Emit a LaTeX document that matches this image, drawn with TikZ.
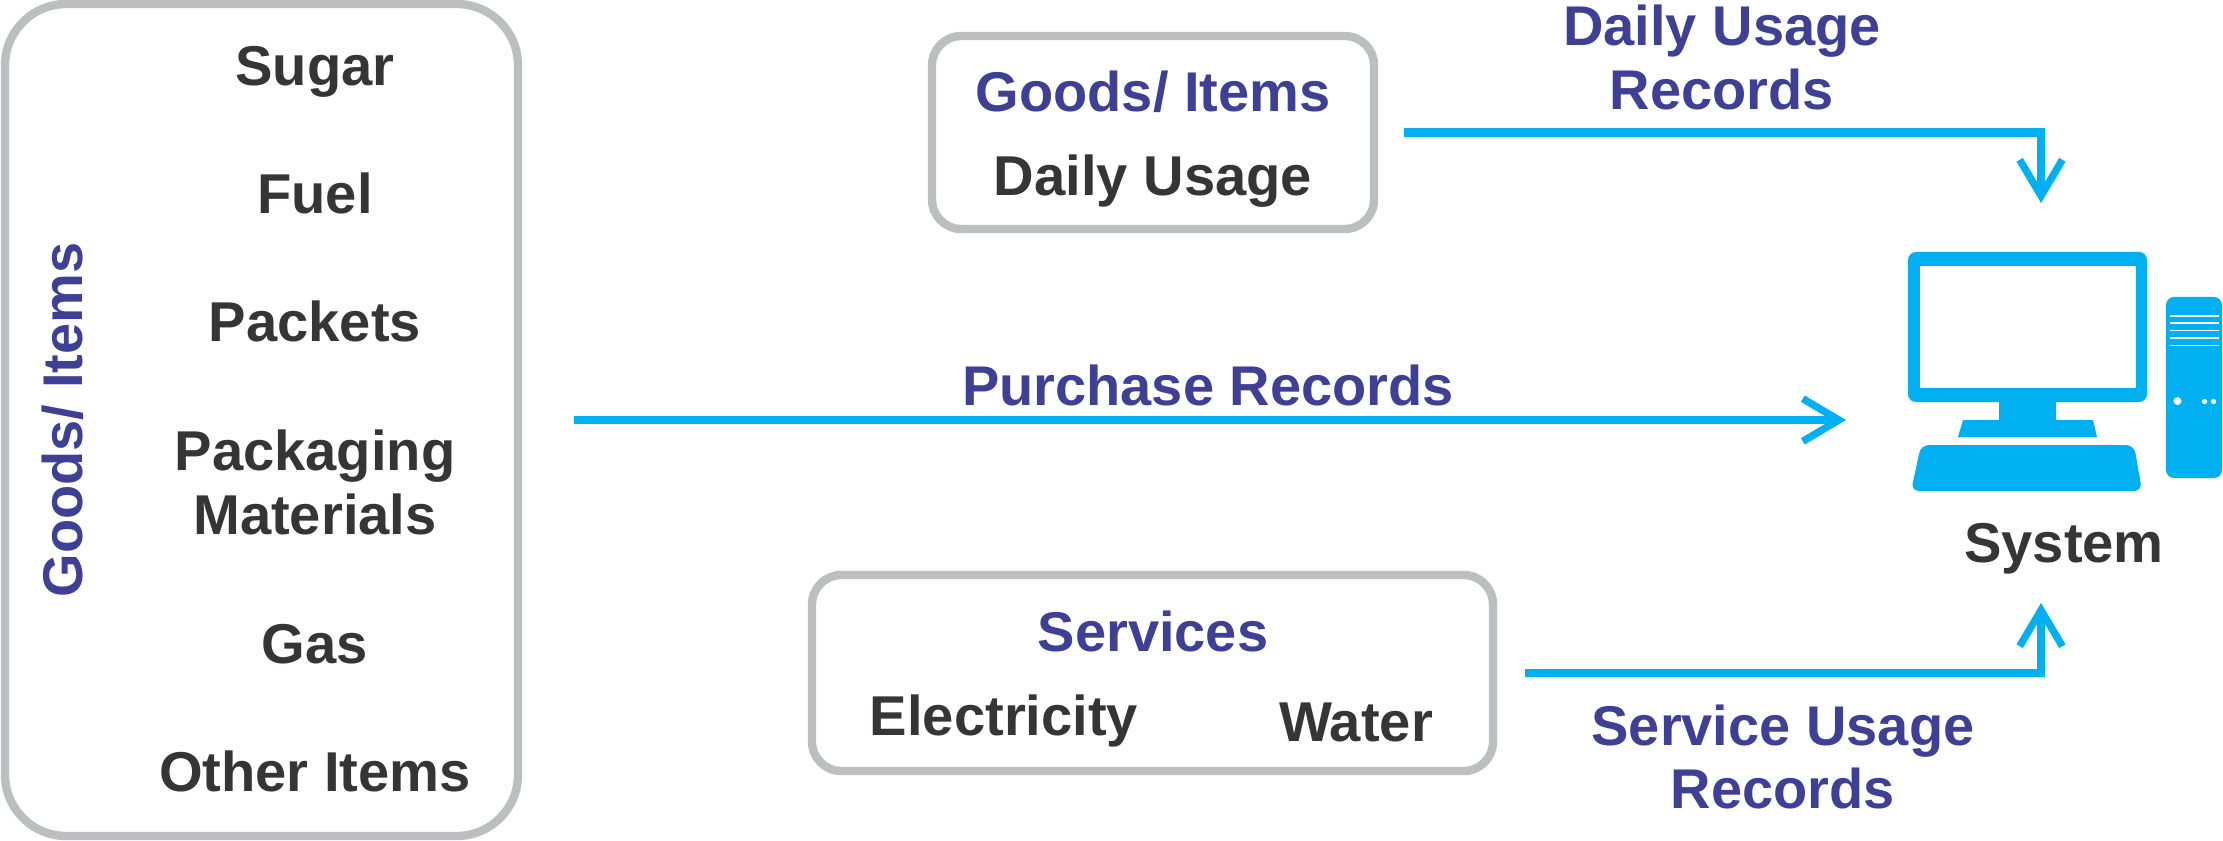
\documentclass[tikz,border=0pt]{standalone}
\usepackage{fontspec}
\setmainfont{Liberation Sans}
\usetikzlibrary{arrows.meta}
\definecolor{boxgray}{HTML}{BCBEC0}
\definecolor{inkdark}{HTML}{363435}
\definecolor{headblue}{HTML}{3E4095}
\definecolor{flowcyan}{HTML}{00B0F0}
\tikzset{
  itembox/.style={draw=boxgray,line width=6.3pt,inner sep=0pt,outer sep=0pt},
  itemtext/.style={anchor=base,align=center,text=inkdark,font=\fontsize{42.1}{48}\selectfont\bfseries},
  headtext/.style={anchor=base,align=center,text=headblue,font=\fontsize{42}{48}\selectfont\bfseries},
  flowline/.style={draw=flowcyan,line width=6.3pt,-{Straight Barb[length=27pt,width=32pt,line width=5.5pt]}},
}

\begin{document}
\begin{tikzpicture}[x=0.75pt,y=0.75pt,yscale=-1,xscale=1]
\useasboundingbox (0,0) rectangle (2223,841);

%Rounded boxes
\draw (261.5,420) node (itemsbox) [itembox,rounded corners=46pt,minimum width=384.75pt,minimum height=624pt] {};
\draw (1153,132.5) node (usagebox) [itembox,rounded corners=22pt,minimum width=331.5pt,minimum height=144.75pt] {};
\draw (1152.5,673) node (servicebox) [itembox,rounded corners=22pt,minimum width=510.75pt,minimum height=147pt] {};

% Text Node
\draw (82,420) node (itemshead) [headtext,rotate=90] {Goods/ Items};
\draw (315,86) node (sugar) [itemtext] {Sugar};
\draw (315,214) node (fuel) [itemtext] {Fuel};
\draw (315,342) node (packets) [itemtext] {Packets};
\draw (315,470) node (packaging) [itemtext] {Packaging};
\draw (315,534) node (materials) [itemtext] {Materials};
\draw (315,663) node (gas) [itemtext] {Gas};
\draw (315,791) node (otheritems) [itemtext] {Other Items};
% Text Node
\draw (1153,112) node (usagehead) [headtext] {Goods/ Items};
\draw (1153,196) node (dailyusage) [itemtext] {Daily Usage};
% Text Node
\draw (1153,651) node (servicehead) [headtext] {Services};
\draw (1004,735) node (electricity) [itemtext] {Electricity};
\draw (1356,741) node (water) [itemtext] {Water};
% Text Node
\draw (1722,46) node (usagelabel) [headtext] {Daily Usage};
\draw (1722,110) node (usagerecords) [headtext] {Records};
\draw (1208,405) node (purchaselabel) [headtext] {Purchase Records};
\draw (1783,745) node (servicelabel) [headtext] {Service Usage};
\draw (1783,808) node (servicerecords) [headtext] {Records};
\draw (2064,562) node (system) [itemtext] {System};

%Computer
\fill [flowcyan,rounded corners=6pt] (1908,252) rectangle (2147,402);
\fill [white] (1920,266) rectangle (2136,388);
\fill [flowcyan] (1999,402) -- (2056,402) -- (2056,420) -- (2093,420) -- (2097,437) -- (1958,437) -- (1963,420) -- (1999,420) -- cycle;
\fill [flowcyan,rounded corners=6pt] (1921,445) -- (2134,445) -- (2142,491) -- (1911,491) -- cycle;
\fill [flowcyan,rounded corners=6pt] (2166,297) rectangle (2222,478);
\foreach \liney in {316,323,330.5,338,345.5}
  \draw [white,line width=1.4pt] (2169.5,\liney) -- (2219,\liney);
\fill [white] (2177.5,401) circle [radius=3pt];
\foreach \dotx in {2204.5,2213.5}
  \fill [white] (\dotx,401.5) circle [radius=2pt];

%Arrow ends
\coordinate (usagein) at (2041,203);
\coordinate (purchasein) at (1846,420);
\coordinate (servicein) at (2041,603);

%Connectors
\draw [flowline,shorten <=22.5pt] (usagebox.east) -| (usagein);
\draw [flowline,shorten <=42pt] (itemsbox.east) -- (purchasein);
\draw [flowline,shorten <=24pt] (servicebox.east) -| (servicein);

\end{tikzpicture}
\end{document}
